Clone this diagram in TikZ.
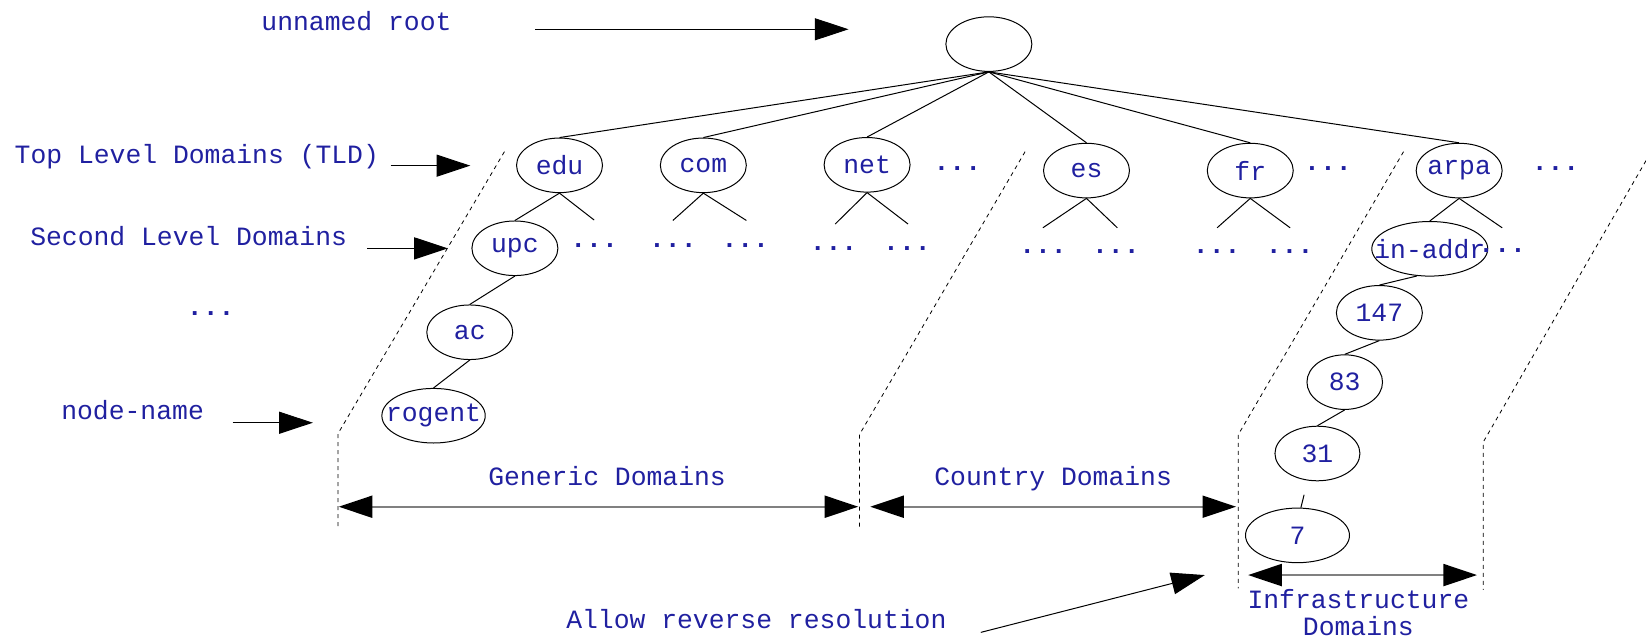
\documentclass[tikz,border=0pt]{standalone}
\usepackage{fontspec}
\setmainfont{Liberation Mono}
\usepackage{tikz}
\usetikzlibrary{arrows.meta,shapes.geometric}
\definecolor{dnsblue}{RGB}{32,32,160}
\tikzstyle{dom}=[ellipse, draw, line width=0.5pt, text=dnsblue,% label kept out of the size
minimum width=43pt, minimum height=27.3pt, inner sep=0pt,
execute at begin node={\hbox to 0pt\bgroup\hss}, execute at end node={\hss\egroup}]
\tikzstyle{lbl}=[text=dnsblue, anchor=base, inner sep=0pt]
\tikzstyle{more}=[lbl, font=\fontsize{13.2}{13.2}\selectfont\bfseries]
\tikzstyle{guide}=[dash pattern=on 2pt off 2pt, line width=0.4pt]
\tikzstyle{ptr}=[-{Triangle[length=16.8pt,width=11pt]}, line width=0.5pt]
\tikzstyle{span}=[{Triangle[length=16.8pt,width=11pt,color=black]}-{Triangle[length=16.8pt,width=11pt,color=black]},
draw=black!50, line width=1pt]

\begin{document}
\begin{tikzpicture}[x=0.525pt, y=-0.525pt, line width=0.5pt, font=\fontsize{13.2}{13.2}\selectfont]
\useasboundingbox (0,0) rectangle (1568,609);
% the tree
\node[dom] (root) at (942,42) {};
\node[dom] (edu) at (533,157.5) {edu};
\node[dom] (com) at (670,157.5) {com};
\node[dom] (net) at (826,157) {net};
\node[dom] (es) at (1035,162.5) {es};
\node[dom] (fr) at (1191,162.5) {fr};
\node[dom] (arpa) at (1390,162.5) {arpa};
\node[dom] (upc) at (490.5,236.5) {upc};
\node[dom] (ac) at (447.5,316.5) {ac};
\node[dom, minimum width=51.7pt] (rogent) at (413,396) {rogent};
\node[dom, minimum width=58pt] (inaddr) at (1362,237) {in-addr};
\node[dom] (n147) at (1314,298) {147};
\node[dom, minimum width=37.8pt] (n83) at (1281,364) {83};
\node[dom, minimum width=42.5pt] (n31) at (1255,432) {31};
\node[dom, minimum width=52pt] (n7) at (1236,510) {7};
\draw (root.south) -- (edu.north);
\draw (root.south) -- (com.north);
\draw (root.south) -- (net.north);
\draw (root.south) -- (es.north);
\draw (root.south) -- (fr.north);
\draw (root.south) -- (arpa.north);
\draw (edu.south) -- (upc.north);
\draw (upc.south) -- (ac.north);
\draw (ac.south) -- (rogent.north);
\draw (arpa.south) -- (inaddr.north);
\draw (inaddr.245) -- (n147.north);
\draw (n147.south) -- (n83.north);
\draw (n83.south) -- (n31.north);
\draw[shorten >=7.3pt] (n7.83) -- (n31.250);
% open branches
\coordinate (eduR) at (566,209.6);
\coordinate (comL) at (641,210);
\coordinate (comR) at (711,210);
\coordinate (netL) at (795.6,213.4);
\coordinate (netR) at (865,213.4);
\coordinate (esL) at (993.4,217);
\coordinate (esR) at (1064.4,217);
\coordinate (frL) at (1159.4,217);
\coordinate (frR) at (1229,217);
\coordinate (arpaR) at (1431,217);
\draw (edu.south) -- (eduR);
\draw (comL) -- (com.south) -- (comR);
\draw (netL) -- (net.south) -- (netR);
\draw (esL) -- (es.south) -- (esR);
\draw (frL) -- (fr.south) -- (frR);
\draw (arpa.south) -- (arpaR);
\node[more] (dnet) at (912,162.5) {...};
\node[more] (dfr) at (1265,162.5) {...};
\node[more] (darpa) at (1481.8,162.5) {...};
\node[more] (dedu) at (566,235.6) {...};
\node[more] (dcomL) at (641,235.6) {...};
\node[more] (dcomR) at (710,235.6) {...};
\node[more] (dnetL) at (794,238.8) {...};
\node[more] (dnetR) at (864,238.8) {...};
\node[more] (desL) at (993.6,241.3) {...};
\node[more] (desR) at (1063,241.3) {...};
\node[more] (dfrL) at (1159,241.3) {...};
\node[more] (dfrR) at (1228.5,241.3) {...};
\node[more] (darpaR) at (1431,240.4) {...};
% zone borders
\draw[guide] (480.5,144.5) -- (322,413) -- (322,503);
\draw[guide] (976.5,144.5) -- (818.7,414) -- (818.7,503);
\draw[guide] (1337,144.5) -- (1179.6,414) -- (1179.6,560.5);
\draw[guide] (1568,153) -- (1413,421) -- (1413,562);
% captions on the left
\node[lbl] (lroot) at (339.6,28.6) {unnamed root};
\node[lbl] (ltld) at (187.5,155.6) {Top Level Domains (TLD)};
\node[lbl] (lsld) at (179.7,234) {Second Level Domains};
\node[more] (lmore) at (200.7,301) {...};
\node[lbl] (lname) at (126.3,399.2) {node-name};
\coordinate (rootA) at (509.7,27.9);
\coordinate (rootB) at (808.3,27.9);
\coordinate (tldA) at (372,157.8);
\coordinate (tldB) at (448,157.8);
\coordinate (sldA) at (350,236.6);
\coordinate (sldB) at (426.6,236.6);
\coordinate (nameA) at (221.5,402.7);
\coordinate (nameB) at (298,402.7);
\draw[ptr] (rootA) -- (rootB);
\draw[ptr] (tldA) -- (tldB);
\draw[ptr] (sldA) -- (sldB);
\draw[ptr] (nameA) -- (nameB);
% zones
\node[lbl] (lgen) at (578.3,462.3) {Generic Domains};
\node[lbl] (lcty) at (1003.2,462.3) {Country Domains};
\node[lbl, align=center] (linfra) at (1294,605) {Infrastructure\\Domains};
\node[lbl] (lrev) at (720.5,598.6) {Allow reverse resolution};
\coordinate (genA) at (322.7,482.7);
\coordinate (genB) at (817.6,482.7);
\coordinate (ctyA) at (829,482.7);
\coordinate (ctyB) at (1177.5,482.7);
\coordinate (infA) at (1189,547.8);
\coordinate (infB) at (1407,547.8);
\coordinate (revA) at (934.3,602.4);
\coordinate (revB) at (1147.7,547.8);
\draw[span] (genA) -- (genB);
\draw[span] (ctyA) -- (ctyB);
\draw[span] (infA) -- (infB);
\draw[ptr] (revA) -- (revB);
\end{tikzpicture}
\end{document}
